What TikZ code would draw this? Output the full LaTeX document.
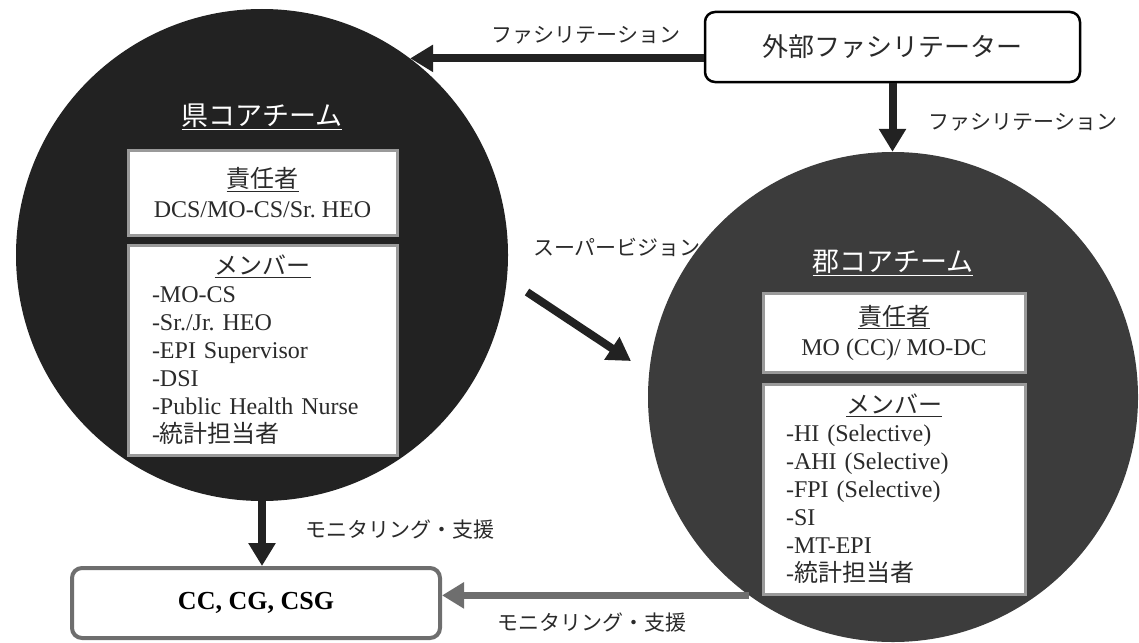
\documentclass[tikz,border=0pt]{standalone}
\usepackage{fontspec}
\setmainfont{Liberation Serif}
\newfontfamily\jp{Noto Sans CJK JP}
\usetikzlibrary{arrows.meta}
\definecolor{cdark}{HTML}{222222}
\definecolor{cmid}{HTML}{3C3C3C}
\definecolor{cgray}{HTML}{6E6E6E}
\definecolor{cbord}{HTML}{9A9A9A}
\definecolor{ctext}{HTML}{2A2A2A}
\frenchspacing
\begin{document}
\begin{tikzpicture}[x=1pt,y=-1pt,
 team/.style={circle, inner sep=0pt},
 teamtitle/.style={text=white, font=\fontsize{27}{30}\selectfont\jp},
 infobox/.style={draw=cbord, line width=3pt, fill=white, inner sep=0pt, font=\fontsize{24}{30}\selectfont, text=ctext},
 listbox/.style={infobox, font=\fontsize{24}{28}\selectfont, align=left},
 lbl/.style={font=\fontsize{21}{24}\selectfont\jp, text=ctext},
 bigarrow/.style={draw=cdark, line width=8pt, -{Triangle[width=26pt,length=23pt]}},
 grayarrow/.style={draw=cgray, line width=7pt, -{Triangle[width=25pt,length=22pt]}},
 roundbox/.style={rounded corners=10pt, fill=white, inner sep=0pt},
]
\useasboundingbox (0,0) rectangle (1139,642);

% team circles
\node[team, fill=cdark, minimum size=492pt] (lc) at (262,255) {};
\node[team, fill=cmid, minimum size=490pt] (rc) at (893,397) {};

% left team content
\node[teamtitle] (lt) at (262,117) {\underline{県コアチーム}};
\node[infobox, minimum width=269pt, minimum height=85pt, align=center] (lresp) at (262.5,192.5)
  {{\jp\underline{責任者}}\\DCS/MO-CS/Sr. HEO};
\node[listbox, minimum width=269pt, minimum height=210pt, text width=221pt] (lmem) at (262.5,350)
  {\makebox[221pt][c]{\jp\underline{メンバー}}\\
   -MO-CS\\
   -Sr./Jr. HEO\\
   -EPI Supervisor\\
   -DSI\\
   -Public Health Nurse\\
   -{\jp 統計担当者}};

% right team content
\node[teamtitle] (rt) at (893,263) {\underline{郡コアチーム}};
\node[infobox, minimum width=262pt, minimum height=79pt, align=center] (rresp) at (894,332.5)
  {{\jp\underline{責任者}}\\MO (CC)/ MO-DC};
\node[listbox, minimum width=262pt, minimum height=210pt, text width=216pt] (rmem) at (894,489)
  {\makebox[216pt][c]{\jp\underline{メンバー}}\\
   -HI (Selective)\\
   -AHI (Selective)\\
   -FPI (Selective)\\
   -SI\\
   -MT-EPI\\
   -{\jp 統計担当者}};

% external facilitator
\node[roundbox, draw=black, line width=2.5pt, minimum width=375pt, minimum height=70pt,
      font=\fontsize{26}{30}\selectfont\jp, text=ctext] (ext) at (892.5,47) {外部ファシリテーター};

% CC box
\node[roundbox, draw=cgray, line width=4pt, minimum width=368pt, minimum height=70pt,
      font=\fontsize{26}{30}\selectfont\bfseries, text=black] (cc) at (256,603) {CC, CG, CSG};

% connectors
\coordinate (t1) at (lc.53);
\draw[bigarrow] (ext.west |- t1) -- (t1);
\draw[bigarrow] (ext.south) -- (ext.south |- rc.north);
\draw[bigarrow] (lc.south) -- (lc.south |- cc.north);
\coordinate (s1) at (527,292);
\coordinate (s2) at (631,361);
\draw[bigarrow] (s1) -- (s2);
\coordinate (g1) at (rc.234);
\draw[grayarrow] (g1) -- (cc.east |- g1);

% labels
\node[lbl] (l1) at (586,35) {ファシリテーション};
\node[lbl] (l2) at (1023,122) {ファシリテーション};
\node[lbl] (l3) at (617,247) {スーパービジョン};
\node[lbl] (l4) at (400,530) {モニタリング・支援};
\node[lbl] (l5) at (592,623) {モニタリング・支援};
\end{tikzpicture}
\end{document}
